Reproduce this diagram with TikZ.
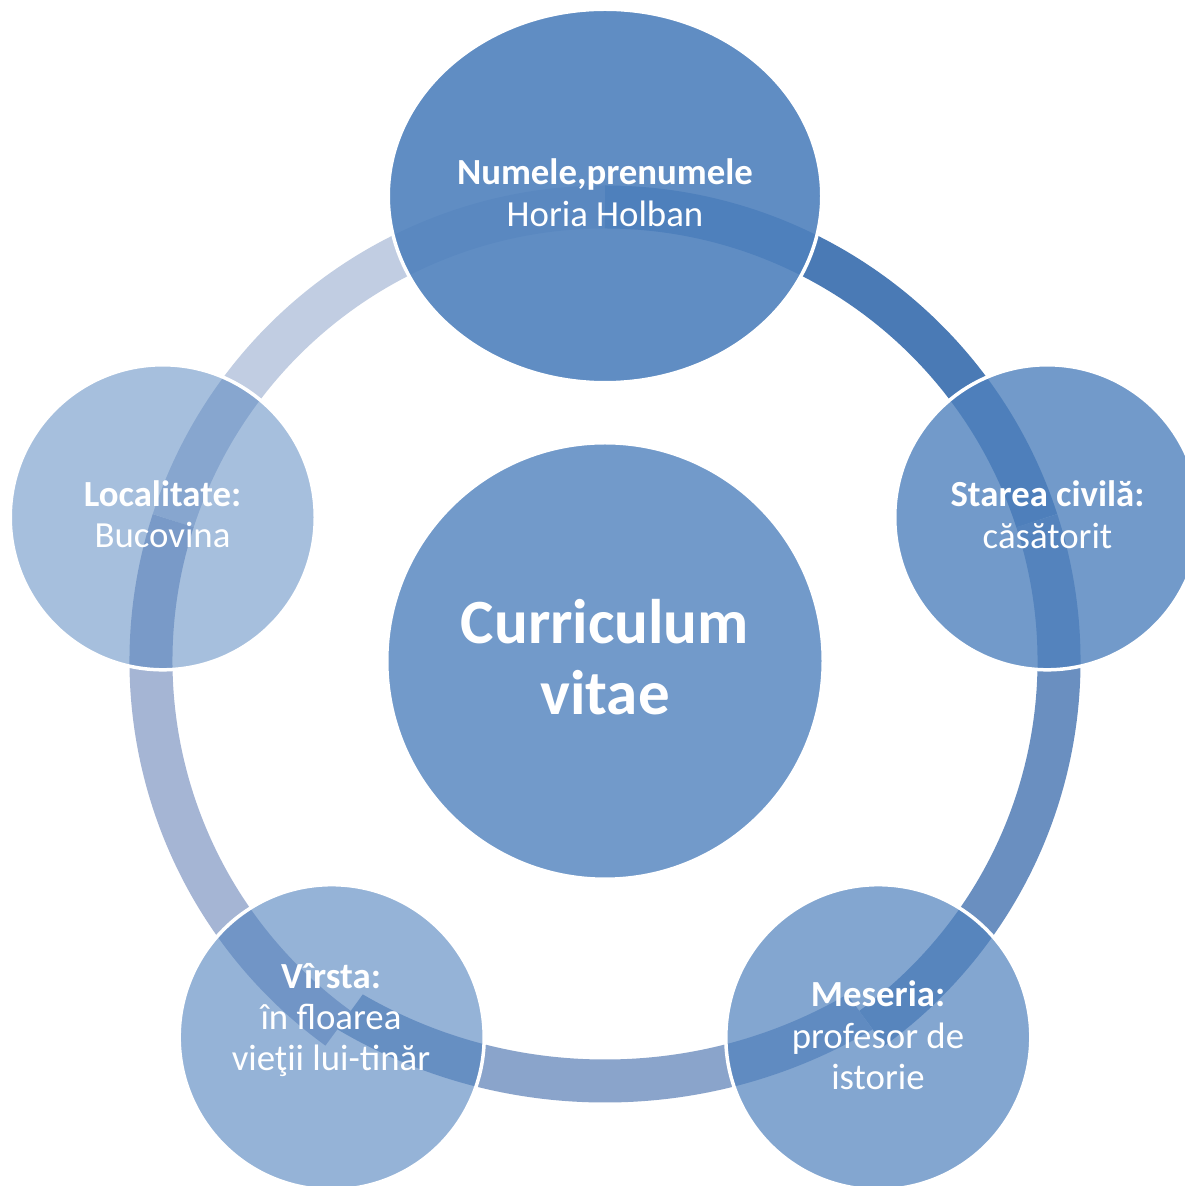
\documentclass[tikz,border=0pt]{standalone}
\usepackage{fontspec}
\setmainfont{Carlito}
\usetikzlibrary{calc,shapes.geometric}
\definecolor{acc}{RGB}{79,129,189}
\definecolor{segA}{RGB}{74,122,181}
\definecolor{segB}{RGB}{106,143,192}
\definecolor{segC}{RGB}{138,164,203}
\definecolor{segD}{RGB}{165,181,212}
\definecolor{segE}{RGB}{193,205,226}
\begin{document}
\begin{tikzpicture}[x=1pt,y=1pt,
  seg/.style={line width=43pt},
  bub/.style={fill=acc, draw=white, line width=3.5pt, inner sep=0pt, outer sep=0pt},
  lbl/.style={anchor=base, inner sep=0pt, text=white, font=\fontsize{36.8}{42}\selectfont\bfseries},
  val/.style={anchor=base, inner sep=0pt, text=white, font=\fontsize{36.8}{42}\selectfont},
  big/.style={anchor=base, inner sep=0pt, text=white, font=\fontsize{63}{71}\selectfont\bfseries}]
\fill[white] (0,0) rectangle (1184,1186);
\useasboundingbox (0,0) rectangle (1184,1186);
\coordinate (O) at (605,525);
\coordinate (OC) at (605,609);
% ring segments
\draw[seg, draw=segE] (O) ++(162:454) arc[start angle=162, end angle=90, radius=454];
\draw[seg, draw=segA] (O) ++(90:454) arc[start angle=90, end angle=18, radius=454];
\draw[seg, draw=segB] (O) ++(18:454) arc[start angle=18, end angle=-54, radius=454];
\draw[seg, draw=segD] (O) ++(-126:454) arc[start angle=-126, end angle=-198, radius=454];
\begin{scope}
  \clip (O) -- ($(O)+(-126:900)$) -- ($(O)+(-90:1200)$) -- ($(O)+(-54:900)$) -- cycle;
  \draw[seg, draw=segC] (OC) circle[radius=504];
\end{scope}
% bubbles
\node (ntop) [ellipse, bub, fill opacity=0.9, minimum width=433.5pt, minimum height=373.5pt] at ($(O)+(90:465)$) {};
\node (nright) [circle, bub, fill opacity=0.8, minimum size=305pt] at ($(O)+(18:465)$) {};
\node (nbr) [circle, bub, fill opacity=0.7, minimum size=305pt] at ($(O)+(-54:465)$) {};
\node (nbl) [circle, bub, fill opacity=0.6, minimum size=305pt] at ($(O)+(-126:465)$) {};
\node (nleft) [circle, bub, fill opacity=0.5, minimum size=305pt] at ($(O)+(162:465)$) {};
\node (ncenter) [circle, bub, fill opacity=0.8, minimum size=436.5pt] at (O) {};
% texts
\node (t1a) [lbl] at (605,1001) {Numele,prenumele};
\node (t1b) [val] at (605,959.3) {Horia Holban};
\node (t2a) [lbl] at (1047.5,679.3) {Starea civilă:};
\node (t2b) [val] at (1047.5,637.7) {căsătorit};
\node (t3a) [lbl] at (878,179.3) {Meseria:};
\node (t3b) [val] at (878,137.7) {profesor de};
\node (t3c) [val] at (878,96.7) {istorie};
\node (t4a) [lbl] at (331,197) {Vîrsta:};
\node (t4b) [val] at (331,156) {în floarea};
\node (t4c) [val] at (331,115.3) {vieţii lui-tinăr};
\node (t5a) [lbl] at (162.5,679) {Localitate:};
\node (t5b) [val] at (162.5,638) {Bucovina};
\node (tca) [big] at (605,542) {Curriculum};
\node (tcb) [big] at (605,471) {vitae};
\end{tikzpicture}
\end{document}
